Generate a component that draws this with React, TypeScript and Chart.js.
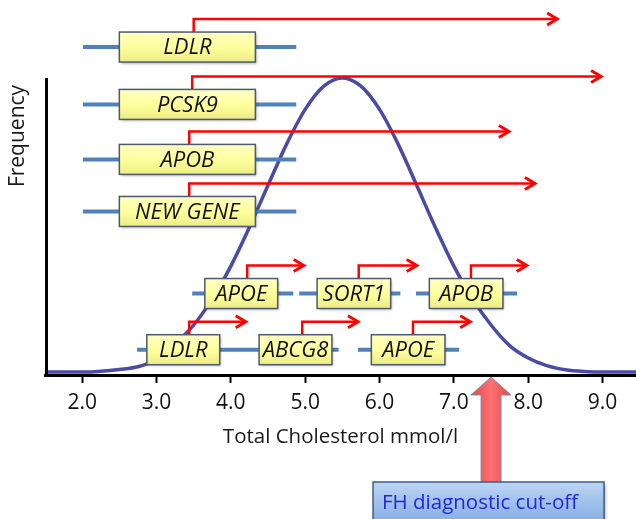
import React, { useEffect, useRef } from 'react';
import { Chart, registerables } from 'chart.js';

Chart.register(...registerables);

// ---- data ----
const CURVE_X = [1.5, 1.75, 2.0, 2.25, 2.5, 2.75, 3.0, 3.25, 3.5, 3.75, 4.0, 4.25, 4.5, 4.75, 5.0, 5.25, 5.5, 5.75, 6.0, 6.25, 6.5, 6.75, 7.0, 7.25, 7.5, 7.75, 8.0, 8.25, 8.5, 8.75, 9.0, 9.25, 9.5];
const CURVE_Y = [0, 0, 0, 0.3, 0.9, 1.8, 4.3, 9.6, 16.0, 24.9, 36.0, 49.2, 63.5, 77.5, 89.3, 97.2, 100, 97.2, 89.3, 77.5, 63.5, 49.2, 36.0, 24.9, 16.0, 9.0, 4.8, 2.2, 0.8, 0.2, 0, 0, 0];
const X_TICKS = [2, 3, 4, 5, 6, 7, 8, 9];
const X_MIN = 1.5;
const X_MAX = 9.45;
const Y_MIN = -1;
const Y_MAX = 126.5;
const Y_AXIS_TOP = 100;
const X_TITLE = 'Total Cholesterol mmol/l';
const Y_TITLE = 'Frequency';

const GENE_NAMES = ['LDLR', 'PCSK9', 'APOB', 'NEW GENE', 'APOE', 'SORT1', 'APOB', 'LDLR', 'ABCG8', 'APOE'];
const GENE_LEVEL = [110.5, 91.0, 72.3, 54.6, 26.7, 26.7, 26.7, 7.6, 7.6, 7.6];
const GENE_LINE_START = [2.01, 2.01, 2.01, 2.01, 3.48, 4.92, 6.49, 2.74, 4.38, 5.71];
const GENE_LINE_END = [4.88, 4.88, 4.88, 4.88, 4.84, 6.28, 7.85, 4.38, 5.45, 7.07];
const GENE_BOX_START = [2.5, 2.5, 2.5, 2.5, 3.65, 5.16, 6.67, 2.87, 4.38, 5.89];
const GENE_BOX_END = [4.33, 4.33, 4.33, 4.33, 4.63, 6.15, 7.66, 3.85, 5.36, 6.88];
const GENE_TSS = [3.5, 3.48, 3.44, 3.44, 4.22, 5.72, 7.23, 3.44, 4.96, 6.45];
const GENE_ARROW_END = [8.39, 8.98, 7.74, 8.09, 4.98, 6.5, 7.98, 4.2, 5.71, 7.22];

const CUTOFF = 7.5;
const CUTOFF_LABEL = 'FH diagnostic cut-off';

// ---- styles ----
const FONT = '"Open Sans", "DejaVu Sans", sans-serif';
const CURVE_COLOR = '#4b4ba4';
const GENE_LINE_COLOR = '#4f81bd';
const ARROW_COLOR = '#ff0000';
const BOX_H = 30;
const STEM_H = 13;
const FREQ_POS = { x: 18, y: 136 };

export default function App() {
  const ref = useRef<HTMLCanvasElement>(null);

  useEffect(() => {
    if (!ref.current) return;

    const overlay = {
      id: 'overlay',
      afterDatasetsDraw(chart: any) {
        const { ctx, chartArea } = chart;
        const xs = chart.scales.x;
        const ys = chart.scales.y;
        ctx.save();

        // y axis line
        ctx.strokeStyle = '#000';
        ctx.lineWidth = 3;
        ctx.beginPath();
        ctx.moveTo(chartArea.left + 1.5, ys.getPixelForValue(Y_AXIS_TOP));
        ctx.lineTo(chartArea.left + 1.5, chartArea.bottom + 1);
        ctx.stroke();

        // y title
        ctx.save();
        ctx.translate(FREQ_POS.x, FREQ_POS.y);
        ctx.rotate(-Math.PI / 2);
        ctx.font = `21px ${FONT}`;
        ctx.fillStyle = '#1a1a1a';
        ctx.textAlign = 'center';
        ctx.textBaseline = 'middle';
        ctx.fillText(Y_TITLE, 0, 0);
        ctx.restore();

        // genes
        for (let i = 0; i < GENE_NAMES.length; i++) {
          const yc = ys.getPixelForValue(GENE_LEVEL[i]);
          const lx0 = xs.getPixelForValue(GENE_LINE_START[i]);
          const lx1 = xs.getPixelForValue(GENE_LINE_END[i]);
          const bx0 = xs.getPixelForValue(GENE_BOX_START[i]);
          const bx1 = xs.getPixelForValue(GENE_BOX_END[i]);
          const tss = xs.getPixelForValue(GENE_TSS[i]);
          const tip = xs.getPixelForValue(GENE_ARROW_END[i]);
          const top = yc - BOX_H / 2;
          const ay = top - STEM_H;

          // blue line
          ctx.strokeStyle = GENE_LINE_COLOR;
          ctx.lineWidth = 4;
          ctx.lineCap = 'butt';
          ctx.beginPath();
          ctx.moveTo(lx0, yc);
          ctx.lineTo(lx1, yc);
          ctx.stroke();

          // red arrow
          ctx.strokeStyle = ARROW_COLOR;
          ctx.lineWidth = 2.5;
          ctx.lineJoin = 'miter';
          ctx.beginPath();
          ctx.moveTo(tss, top);
          ctx.lineTo(tss, ay);
          ctx.lineTo(tip - 2, ay);
          ctx.stroke();
          ctx.lineWidth = 3;
          ctx.beginPath();
          ctx.moveTo(tip - 10, ay - 6);
          ctx.lineTo(tip, ay);
          ctx.lineTo(tip - 10, ay + 6);
          ctx.stroke();

          // box
          ctx.save();
          ctx.shadowColor = 'rgba(0,0,0,0.35)';
          ctx.shadowBlur = 3;
          ctx.shadowOffsetX = 1.5;
          ctx.shadowOffsetY = 1.5;
          const g = ctx.createLinearGradient(0, top, 0, top + BOX_H);
          g.addColorStop(0, '#ffffc4');
          g.addColorStop(0.5, '#ffff9e');
          g.addColorStop(1, '#ecec86');
          ctx.fillStyle = g;
          ctx.fillRect(bx0, top, bx1 - bx0, BOX_H);
          ctx.restore();
          ctx.strokeStyle = '#4a5a70';
          ctx.lineWidth = 1.5;
          ctx.strokeRect(bx0, top, bx1 - bx0, BOX_H);

          ctx.fillStyle = '#111';
          ctx.font = `italic 22px ${FONT}`;
          ctx.textAlign = 'center';
          ctx.textBaseline = 'middle';
          ctx.fillText(GENE_NAMES[i], (bx0 + bx1) / 2, yc + 1);
        }

        // FH cut-off arrow
        const cx = xs.getPixelForValue(CUTOFF);
        const tipY = chartArea.bottom + 2;
        const headY = tipY + 18;
        const boxTop = tipY + 105;
        const ag = ctx.createLinearGradient(cx - 20, 0, cx + 20, 0);
        ag.addColorStop(0, '#e04848');
        ag.addColorStop(0.5, '#ff7272');
        ag.addColorStop(1, '#e04848');
        ctx.fillStyle = ag;
        ctx.strokeStyle = '#7d8fb0';
        ctx.lineWidth = 1;
        ctx.beginPath();
        ctx.moveTo(cx, tipY);
        ctx.lineTo(cx + 20, headY);
        ctx.lineTo(cx + 10, headY);
        ctx.lineTo(cx + 10, boxTop);
        ctx.lineTo(cx - 10, boxTop);
        ctx.lineTo(cx - 10, headY);
        ctx.lineTo(cx - 20, headY);
        ctx.closePath();
        ctx.fill();
        ctx.stroke();

        // FH box
        const fbx0 = cx - 118;
        const fbx1 = cx + 113;
        ctx.save();
        ctx.shadowColor = 'rgba(0,0,0,0.35)';
        ctx.shadowBlur = 3;
        ctx.shadowOffsetX = 1.5;
        ctx.shadowOffsetY = 1.5;
        const bg = ctx.createLinearGradient(0, boxTop, 0, boxTop + 40);
        bg.addColorStop(0, '#bcd5f4');
        bg.addColorStop(1, '#85ade2');
        ctx.fillStyle = bg;
        ctx.fillRect(fbx0, boxTop, fbx1 - fbx0, 45);
        ctx.restore();
        ctx.strokeStyle = '#3f5c86';
        ctx.lineWidth = 1.5;
        ctx.strokeRect(fbx0, boxTop, fbx1 - fbx0, 45);
        ctx.fillStyle = '#2424e0';
        ctx.font = `20.5px ${FONT}`;
        ctx.textAlign = 'left';
        ctx.textBaseline = 'middle';
        ctx.fillText(CUTOFF_LABEL, fbx0 + 9, boxTop + 21);

        ctx.restore();
      },
    };

    const chart = new Chart(ref.current, {
      type: 'line',
      data: {
        datasets: [
          {
            data: CURVE_X.map((x, i) => ({ x, y: CURVE_Y[i] })),
            borderColor: CURVE_COLOR,
            borderWidth: 3.5,
            pointRadius: 0,
            fill: false,
            cubicInterpolationMode: 'monotone',
          },
        ],
      },
      options: {
        responsive: false,
        animation: false,
        devicePixelRatio: 1,
        layout: { padding: { left: 45, top: 0, right: 0, bottom: 0 } },
        plugins: { legend: { display: false }, tooltip: { enabled: false } },
        scales: {
          x: {
            type: 'linear',
            min: X_MIN,
            max: X_MAX,
            afterBuildTicks: (scale: any) => {
              scale.ticks = X_TICKS.map((v) => ({ value: v }));
            },
            afterFit: (scale: any) => {
              scale.height = 144;
            },
            ticks: {
              callback: (v: any) => Number(v).toFixed(1),
              font: { family: FONT, size: 21 },
              color: '#111',
              padding: 7,
              maxRotation: 0,
              autoSkip: false,
            },
            grid: {
              drawOnChartArea: false,
              drawTicks: true,
              tickLength: 8,
              tickWidth: 2,
              tickColor: '#000',
            },
            border: { display: true, color: '#000', width: 3 },
            title: {
              display: true,
              text: X_TITLE,
              font: { family: FONT, size: 20.5 },
              color: '#1a1a1a',
              padding: { top: 0, bottom: 70 },
            },
          },
          y: {
            type: 'linear',
            display: false,
            min: Y_MIN,
            max: Y_MAX,
          },
        },
      },
      plugins: [overlay],
    } as any);

    return () => chart.destroy();
  }, []);

  return (
    <div style={{ position: 'absolute', left: 0, top: 0, width: 636, height: 519 }}>
      <canvas ref={ref} width={636} height={519} style={{ width: 636, height: 519, display: 'block' }} />
    </div>
  );
}
